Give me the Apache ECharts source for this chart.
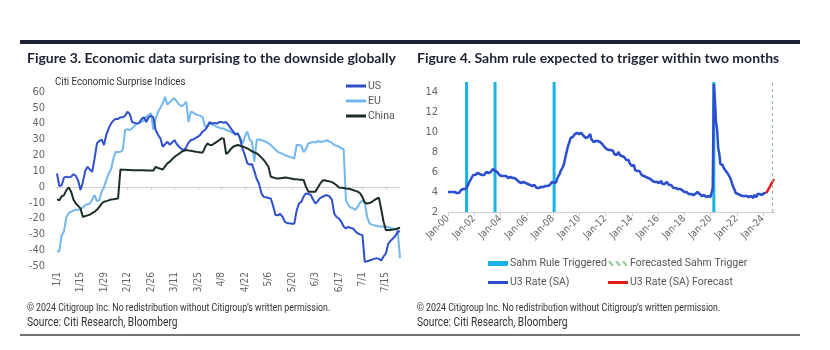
<!DOCTYPE html>
<html>
<head>
<meta charset="utf-8">
<script src="https://cdn.jsdelivr.net/npm/echarts/dist/echarts.min.js"></script>
<style>
  html, body { margin: 0; padding: 0; background: #fff; }
  #chart { width: 830px; height: 350px; }
</style>
</head>
<body>
<div id="chart"></div>
<script>
// ---- Figure 3: Citi Economic Surprise Indices (business days from 1/1/2024) ----
const surpriseStart = [2024, 0, 1];
const surpriseCount = 147;

const usSurprise = [
  8.5, 0.5, 1, 6, 6.5, 6, 6.5, 8, 7, 4,
  -2, 3, 10, 12.7, 11, 9.5, 18, 27.5, 29, 30,
  26.5, 33, 37, 40, 42, 43, 43, 44, 44, 45,
  47.5, 46, 41, 40.5, 40, 40.5, 43, 44, 41, 44,
  45, 44, 36, 33, 30.7, 25.4, 27, 28.5, 26.7, 28,
  29.6, 27, 25.4, 24, 23.3, 25, 28, 29.6, 30, 31,
  31.7, 33, 35, 36, 38, 41, 40, 40.5, 40, 41,
  41, 40.5, 41, 39, 37, 35, 33, 33.8, 30, 24,
  20, 15, 14, 14.5, 10, 5, 2, -4, -6.3, -6.5,
  -7, -7.3, -12, -17.8, -18, -17, -18.9, -22, -23, -23,
  -23.3, -23.3, -15, -10.5, -9.5, -6, -4.1, -4.5, -5, -8,
  -10.5, -9, -7, -6.3, -5.5, -5.3, -6, -8, -16.8, -19,
  -20, -22, -25, -26.3, -25.2, -26, -26.3, -28, -29.4, -30,
  -30.5, -47.4, -47, -46.5, -46, -45.5, -45, -45.5, -46.5, -44,
  -42, -36, -34, -32.6, -31, -28.4, -28
];

const euSurprise = [
  -41, -40.5, -30.5, -28, -19, -16.5, -15.7, -15, -14.4, -14.5,
  -14, -13, -11.5, -11, -10.5, -8, -5.2, -9, -8.4, -3,
  0, 4.3, 8.5, 11, 18, 22.2, 22, 22.2, 23.3, 36,
  36.5, 36, 37, 38.5, 40, 40.5, 41, 42, 44.4, 45.5,
  46.5, 36, 43, 47.5, 50, 52.8, 57, 52, 53.5, 55,
  56, 54, 52, 51, 52, 54, 41, 47.5, 47, 46,
  45.4, 45, 44, 38, 39, 40, 39.5, 39, 38, 37.5,
  37, 37, 36, 35.5, 34.9, 33.8, 33.8, 33.5, 31, 27.5,
  32, 35, 30, 28.5, 15.9, 29.6, 30, 29.5, 29, 28.5,
  27.5, 26.5, 25, 23.5, 22.2, 21.5, 21, 20, 19.5, 19,
  18.5, 18, 26.5, 26.5, 26, 22, 24, 27.5, 28, 28.5,
  28, 29, 28.5, 28.5, 29, 29.6, 28.5, 28, 26.5, 26,
  25.4, 24.4, 24, -8.4, -11.5, -13, -13.5, -14.6, -12.5, -10,
  -8.4, -10, -19, -23, -24, -24.2, -24.5, -25, -25, -25.2,
  -25.2, -25.5, -26, -26.3, -26.5, -27.4, -45
];

const chinaSurprise = [
  -7.9, -8.4, -6, -5.2, -2, -0.3, -3, -8, -10.5, -12,
  -13.6, -19, -18.5, -18, -17.5, -16.5, -15.7, -14.5, -12.6, -10.5,
  -9.4, -9, -8.5, -8, -7.8, -7.5, -7.3, 11, 10.9, 10.8,
  10.7, 10.7, 10.6, 10.6, 10.5, 10.5, 10.5, 10.5, 10.4, 10.4,
  10.3, 10.3, 12.7, 12, 11.5, 11, 13, 14.9, 16, 17.5,
  19, 20, 21, 22.2, 22.8, 23.3, 23, 22.8, 22.5, 22.3,
  22, 21.8, 21.7, 25, 27.5, 26.5, 26.5, 27.5, 28.5, 29.5,
  30.7, 30.5, 20.8, 22, 24, 25.4, 26, 26.5, 26, 25.5,
  25, 24.4, 23.5, 22.5, 21.8, 21.2, 20, 18.5, 17, 15,
  12.7, 6.4, 6, 5.5, 5.3, 5.5, 5.7, 5.9, 5.8, 5.5,
  5.2, 4.9, 4.8, 4.6, 4.5, 4.3, 0, -3, -3, -3,
  -3, -0.5, 2, 4, 4.2, 3.7, 3.5, 3, 2.2, 1,
  -0.3, -0.5, -0.7, -1, -1.2, -1.5, -2, -2.5, -3, -4,
  -6.3, -10, -10.5, -10.2, -9.5, -8.4, -7.5, -6.8, -14, -22,
  -27.4, -27.3, -27.2, -27, -26.8, -26.3, -25.8
];

// ---- Figure 4: U3 unemployment rate, monthly from Jan-2000 ----
const u3Rate = [
  4.0, 4.1, 4.0, 3.8, 4.0, 4.0, 4.0, 4.1, 3.9, 3.9, 3.9, 3.9,
  4.2, 4.2, 4.3, 4.4, 4.3, 4.5, 4.6, 4.9, 5.0, 5.3, 5.5, 5.7,
  5.7, 5.7, 5.7, 5.9, 5.8, 5.8, 5.8, 5.7, 5.7, 5.7, 5.9, 6.0,
  5.8, 5.9, 5.9, 6.0, 6.1, 6.3, 6.2, 6.1, 6.1, 6.0, 5.8, 5.7,
  5.7, 5.6, 5.8, 5.6, 5.6, 5.6, 5.5, 5.4, 5.4, 5.5, 5.4, 5.4,
  5.3, 5.4, 5.2, 5.2, 5.1, 5.0, 5.0, 4.9, 5.0, 5.0, 5.0, 4.9,
  4.7, 4.8, 4.7, 4.7, 4.6, 4.6, 4.7, 4.7, 4.5, 4.4, 4.5, 4.4,
  4.6, 4.5, 4.4, 4.5, 4.4, 4.6, 4.7, 4.6, 4.7, 4.7, 4.7, 5.0,
  5.0, 4.9, 5.1, 5.0, 5.4, 5.6, 5.8, 6.1, 6.1, 6.5, 6.8, 7.3,
  7.8, 8.3, 8.7, 9.0, 9.4, 9.5, 9.5, 9.6, 9.8, 10.0, 9.9, 9.9,
  9.8, 9.8, 9.9, 9.9, 9.6, 9.4, 9.4, 9.5, 9.5, 9.4, 9.8, 9.3,
  9.1, 9.0, 9.0, 9.1, 9.0, 9.1, 9.0, 9.0, 9.0, 8.8, 8.6, 8.5,
  8.3, 8.3, 8.2, 8.2, 8.2, 8.2, 8.2, 8.1, 7.8, 7.8, 7.7, 7.9,
  8.0, 7.7, 7.5, 7.6, 7.5, 7.5, 7.3, 7.2, 7.2, 7.2, 6.9, 6.7,
  6.6, 6.7, 6.7, 6.2, 6.3, 6.1, 6.2, 6.1, 5.9, 5.7, 5.8, 5.6,
  5.7, 5.5, 5.4, 5.4, 5.6, 5.3, 5.2, 5.1, 5.0, 5.0, 5.1, 5.0,
  4.8, 4.9, 5.0, 5.1, 4.8, 4.9, 4.8, 4.9, 5.0, 4.9, 4.7, 4.7,
  4.7, 4.6, 4.4, 4.4, 4.4, 4.3, 4.3, 4.4, 4.3, 4.2, 4.2, 4.1,
  4.0, 4.1, 4.0, 4.0, 3.8, 4.0, 3.8, 3.8, 3.7, 3.8, 3.8, 3.9,
  4.0, 3.8, 3.8, 3.7, 3.6, 3.6, 3.7, 3.6, 3.5, 3.6, 3.6, 3.6,
  3.5, 3.5, 4.4, 14.8, 13.2, 11.0, 10.2, 8.4, 7.8, 6.8, 6.7, 6.7,
  6.4, 6.2, 6.1, 6.1, 5.8, 5.9, 5.4, 5.1, 4.7, 4.5, 4.2, 3.9,
  4.0, 3.8, 3.6, 3.7, 3.6, 3.6, 3.5, 3.6, 3.5, 3.6, 3.6, 3.5,
  3.4, 3.6, 3.5, 3.4, 3.7, 3.6, 3.5, 3.8, 3.8, 3.8, 3.7, 3.7,
  3.7, 3.9, 3.8, 3.9
];
const forecastMonths = ['Apr-24', 'May-24', 'Jun-24', 'Jul-24', 'Aug-24', 'Sep-24', 'Oct-24', 'Nov-24'];
const u3Forecast = [3.9, 4.1, 4.3, 4.5, 4.7, 4.9, 5.1, 5.3];
const sahmTriggered = ['Jun-01', 'Aug-03', 'Feb-08', 'Apr-20'];
const sahmForecast = 'Sep-24';
const u3Ticks = [2, 4, 6, 8, 10, 12, 14];

// category labels
const surpriseDays = [];
{
  const d = new Date(surpriseStart[0], surpriseStart[1], surpriseStart[2]);
  while (surpriseDays.length < surpriseCount) {
    const wd = d.getDay();
    if (wd !== 0 && wd !== 6) surpriseDays.push((d.getMonth() + 1) + '/' + d.getDate());
    d.setDate(d.getDate() + 1);
  }
}
const monNames = ['Jan','Feb','Mar','Apr','May','Jun','Jul','Aug','Sep','Oct','Nov','Dec'];
const months = [];
for (let y = 2000; y <= 2024; y++) {
  for (let m = 0; m < 12; m++) {
    if (y === 2024 && m > 10) break;
    months.push(monNames[m] + '-' + String(y).slice(2));
  }
}

const narrow = "'Liberation Sans Narrow', 'DejaVu Sans Condensed', Roboto, sans-serif";
const heading = "Lato, 'Noto Sans', sans-serif";
const labelColor = '#666';

// condensed text helper (no narrow font installed, so squeeze horizontally)
function squeezed(text, x, y, size, sx) {
  return { type: 'text', x: x, y: y, scaleX: sx, silent: true,
    style: { text: text, fontFamily: 'Roboto, sans-serif', fontSize: size, fill: '#333',
      textVerticalAlign: 'middle' } };
}

const copyright = '\u00a9 2024 Citigroup Inc. No redistribution without Citigroup\u2019s written permission.';
const source = 'Source: Citi Research, Bloomberg';

const chart = echarts.init(document.getElementById('chart'));

const legendText = { fontFamily: 'Roboto, sans-serif', fontSize: 10.5, color: '#555', padding: [0, 0, 0, -3] };
const hatchIcon = 'path://M0,0L3,0L7,5L4,5Z M8,0L11,0L15,5L12,5Z M16,0L19,0L23,5L20,5Z';

const option = {
  backgroundColor: '#fff',
  animation: false,
  title: [
    { text: 'Figure 3. Economic data surprising to the downside globally', left: 27, top: 51, padding: 0,
      textStyle: { fontFamily: heading, fontWeight: 'bold', fontSize: 14, color: '#1f2233' } },
    { text: 'Figure 4. Sahm rule expected to trigger within two months', left: 417, top: 51, padding: 0,
      textStyle: { fontFamily: heading, fontWeight: 'bold', fontSize: 14, color: '#1f2233' } }
  ],
  graphic: [
    { type: 'rect', shape: { x: 20, y: 40, width: 780, height: 4 }, style: { fill: '#1c2036' } },
    { type: 'line', shape: { x1: 20, y1: 335, x2: 800, y2: 335 }, style: { stroke: '#444', lineWidth: 1.5 } },
    squeezed('Citi Economic Surprise Indices', 55, 82, 11.5, 0.84),
    squeezed(copyright, 27, 308, 10.5, 0.84),
    squeezed(source, 27, 323, 12, 0.85),
    squeezed(copyright, 417, 308, 10.5, 0.84),
    squeezed(source, 417, 323, 12, 0.85)
  ],
  legend: [
    { orient: 'vertical', left: 346, top: 80, padding: 0, itemWidth: 20, itemHeight: 3, itemGap: 3,
      icon: 'rect', data: ['US', 'EU', 'China'], textStyle: Object.assign({ lineHeight: 12 }, legendText) },
    { left: 488, top: 258, padding: 0, itemWidth: 20, itemHeight: 5, icon: 'rect',
      data: ['Sahm Rule Triggered'], textStyle: legendText },
    { left: 608, top: 258, padding: 0, itemWidth: 20, itemHeight: 5, icon: hatchIcon,
      data: ['Forecasted Sahm Trigger'], textStyle: legendText },
    { left: 488, top: 277, padding: 0, itemWidth: 20, itemHeight: 3, icon: 'rect',
      data: ['U3 Rate (SA)'], textStyle: legendText },
    { left: 608, top: 277, padding: 0, itemWidth: 20, itemHeight: 3, icon: 'rect',
      data: ['U3 Rate (SA) Forecast'], textStyle: legendText }
  ],
  grid: [
    { left: 57, top: 92, width: 343, height: 174 },
    { left: 448, top: 82, width: 326, height: 130 }
  ],
  xAxis: [
    { gridIndex: 0, type: 'category', data: surpriseDays, boundaryGap: false, position: 'bottom',
      axisLine: { show: false, onZero: false }, axisTick: { show: false },
      axisLabel: { rotate: 90, interval: 9, margin: 6, fontFamily: narrow, fontSize: 10, color: labelColor } },
    { gridIndex: 0, type: 'category', data: surpriseDays, boundaryGap: false, position: 'bottom',
      axisLine: { onZero: true, lineStyle: { color: '#d0d0d0', width: 1 } },
      axisTick: { interval: 9, length: 3, lineStyle: { color: '#d0d0d0' } },
      axisLabel: { show: false } },
    { gridIndex: 1, type: 'category', data: months, boundaryGap: false,
      axisLine: { lineStyle: { color: '#cfcfcf', width: 1 } },
      axisTick: { interval: 23, length: 4, lineStyle: { color: '#cfcfcf' } },
      axisLabel: { rotate: 45, interval: 23, margin: 5, fontFamily: narrow, fontSize: 10, color: labelColor } }
  ],
  yAxis: [
    { gridIndex: 0, type: 'value', min: -50, max: 60, interval: 10,
      splitLine: { show: false }, axisLine: { show: false }, axisTick: { show: false },
      axisLabel: { margin: 12, fontFamily: narrow, fontSize: 11, color: labelColor } },
    { gridIndex: 1, type: 'value', min: 2, max: 15, interval: 2,
      splitLine: { show: false }, axisLine: { show: false }, axisTick: { show: false },
      axisLabel: { margin: 10, showMaxLabel: false, fontFamily: narrow, fontSize: 11, color: labelColor,
        formatter: v => (u3Ticks.indexOf(v) >= 0 ? String(v) : '') } }
  ],
  series: [
    { name: 'EU', type: 'line', xAxisIndex: 0, yAxisIndex: 0, data: euSurprise, symbol: 'none',
      color: '#72b8ee', lineStyle: { width: 2 } },
    { name: 'US', type: 'line', xAxisIndex: 0, yAxisIndex: 0, data: usSurprise, symbol: 'none',
      color: '#2f4fcc', lineStyle: { width: 2 } },
    { name: 'China', type: 'line', xAxisIndex: 0, yAxisIndex: 0, data: chinaSurprise, symbol: 'none',
      color: '#1d2f24', lineStyle: { width: 2 } },

    { name: 'Sahm Rule Triggered', type: 'bar', xAxisIndex: 2, yAxisIndex: 1, barWidth: 3,
      color: '#19b2e6', data: sahmTriggered.map(m => [m, 15]) },
    { name: 'Forecasted Sahm Trigger', type: 'line', xAxisIndex: 2, yAxisIndex: 1,
      color: '#8cc98c', lineStyle: { type: [3, 3], width: 1.5 }, symbol: 'none',
      data: [[sahmForecast, null]],
      markLine: { symbol: 'none', silent: true, label: { show: false },
        lineStyle: { type: [3, 3], width: 1.2, color: '#9fbf9f' },
        data: [{ xAxis: sahmForecast }] } },
    { name: 'U3 Rate (SA)', type: 'line', xAxisIndex: 2, yAxisIndex: 1, data: u3Rate, symbol: 'none',
      color: '#2c4fd0', lineStyle: { width: 2.5 } },
    { name: 'U3 Rate (SA) Forecast', type: 'line', xAxisIndex: 2, yAxisIndex: 1, symbol: 'none',
      color: '#e0191b', lineStyle: { width: 2.5 },
      data: forecastMonths.map((m, i) => [m, u3Forecast[i]]) }
  ]
};

chart.setOption(option);
</script>
</body>
</html>
